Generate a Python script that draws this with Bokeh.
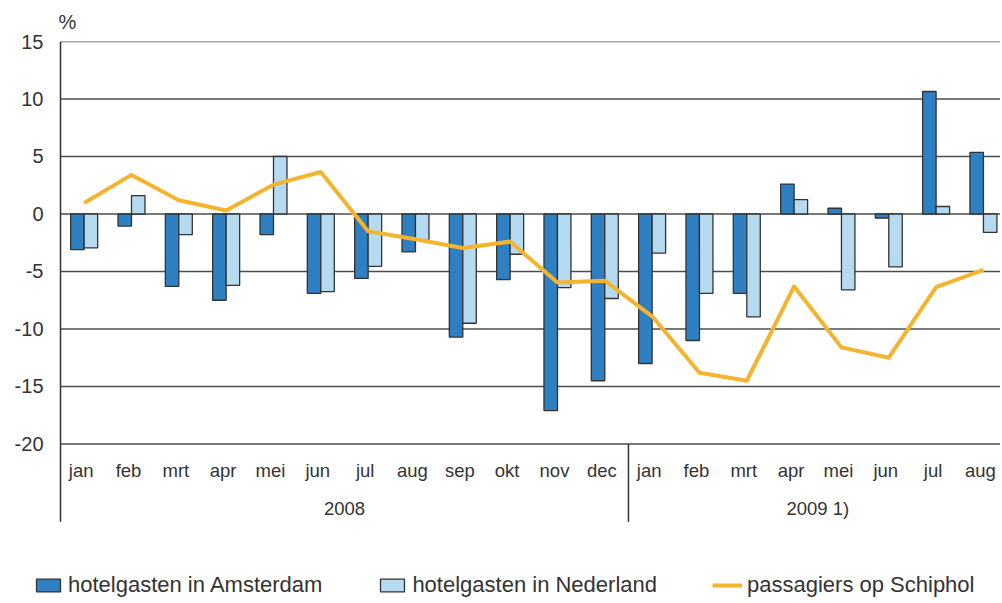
from bokeh.plotting import figure
from bokeh.models import (Range1d, FixedTicker, Legend, LegendItem, Title,
                          ColumnDataSource)
from bokeh.core.properties import value
from bokeh.embed import file_html
from bokeh.resources import INLINE

# ---------------- data ----------------
months = ["jan", "feb", "mrt", "apr", "mei", "jun", "jul", "aug", "sep", "okt",
          "nov", "dec", "jan", "feb", "mrt", "apr", "mei", "jun", "jul", "aug"]
years = ["2008", "2009 1)"]
year_counts = [12, 8]
amsterdam = [-3.1, -1.05, -6.3, -7.5, -1.8, -6.9, -5.6, -3.3, -10.7, -5.7,
             -17.1, -14.5, -13.0, -11.0, -6.9, 2.6, 0.5, -0.35, 10.65, 5.35]
nederland = [-2.95, 1.6, -1.8, -6.2, 5.0, -6.75, -4.55, -2.3, -9.5, -3.5,
             -6.4, -7.35, -3.4, -6.9, -8.95, 1.25, -6.6, -4.6, 0.65, -1.6]
schiphol = [0.95, 3.4, 1.2, 0.3, 2.55, 3.65, -1.5, -2.2, -2.95, -2.4,
            -5.95, -5.8, -8.9, -13.8, -14.5, -6.3, -11.6, -12.5, -6.35, -4.85]
y_ticks = [-20, -15, -10, -5, 0, 5, 10, 15]
y_tick_labels = ["-20", "-15", "-10", "-5", "0", "5", "10", "15"]
series_names = ["hotelgasten in Amsterdam", "hotelgasten in Nederland",
                "passagiers op Schiphol"]

# ---------------- layout / style ----------------
W, H = 1000, 600
FRAME_LEFT, AXIS_X, TOP = 33, 60, 40   # px
CAT_PX = 47.33                          # pixels per month
PX_PER_UNIT = 11.52
Y_MAX, Y_AXIS_MIN = 15, -20
AXIS_EXT_PX = 78                        # axis area below the -20 line
Y_MIN = Y_MAX - (H - TOP) / PX_PER_UNIT
Y_SEP_END = Y_AXIS_MIN - AXIS_EXT_PX / PX_PER_UNIT
BAR_W = 0.285
FONT = "Liberation Sans"
TXT = "#333333"
DARK, LIGHT, ORANGE = "#2E80C2", "#B6DAEF", "#F4B431"
EDGE = "#333333"
GRID = "#4d4d4d"

n = len(months)
x_start = -(AXIS_X - FRAME_LEFT) / CAT_PX
x_end = (W - AXIS_X) / CAT_PX

p = figure(width=W, height=H, output_backend="svg", toolbar_location=None,
           x_range=Range1d(x_start, x_end), y_range=Range1d(Y_MIN, Y_MAX),
           x_axis_location=None,
           min_border_left=FRAME_LEFT, min_border_right=0,
           min_border_top=TOP, min_border_bottom=0)
p.outline_line_color = None
p.background_fill_color = "white"
p.border_fill_color = "white"
p.xgrid.visible = False
p.ygrid.visible = False
p.yaxis.ticker = FixedTicker(ticks=y_ticks)
p.yaxis.major_label_overrides = dict(zip(y_ticks, y_tick_labels))
p.yaxis.axis_line_color = None
p.yaxis.major_tick_line_color = None
p.yaxis.minor_tick_line_color = None
p.yaxis.major_tick_out = 0
p.yaxis.major_tick_in = 0
p.yaxis.major_label_standoff = -(AXIS_X - FRAME_LEFT) + 17
p.yaxis.major_label_text_font = FONT
p.yaxis.major_label_text_font_size = "20px"
p.yaxis.major_label_text_color = TXT

# "%" unit label as title
p.title = Title(text="%", align="left", offset=AXIS_X - FRAME_LEFT - 2,
                standoff=17, text_font=FONT, text_font_size="20px",
                text_color=TXT, text_font_style="normal")

# horizontal grid lines (start at the value axis, x = 0)
p.segment(x0=[0] * len(y_ticks), y0=y_ticks, x1=[x_end] * len(y_ticks),
          y1=y_ticks, line_color=GRID, line_width=1.5)

centers = [i + 0.5 for i in range(n)]
src = ColumnDataSource(dict(
    xa=[c - BAR_W / 2 for c in centers],
    xn=[c + BAR_W / 2 for c in centers],
    xc=centers, a=amsterdam, nl=nederland, s=schiphol))

r_a = p.vbar(x="xa", top="a", bottom=0, width=BAR_W, source=src,
             fill_color=DARK, line_color=EDGE, line_width=1.3)
r_n = p.vbar(x="xn", top="nl", bottom=0, width=BAR_W, source=src,
             fill_color=LIGHT, line_color=EDGE, line_width=1.3)
r_s = p.line(x="xc", y="s", source=src, line_color=ORANGE, line_width=4,
             line_join="round")

# month labels and year labels
month_y = Y_AXIS_MIN - 27 / PX_PER_UNIT
year_y = Y_AXIS_MIN - 65 / PX_PER_UNIT
p.text(x=centers, y=[month_y] * n, text=months, text_align="center",
       text_baseline="middle", text_font=value(FONT), x_offset=-3,
       text_font_size="18.5px", text_color=TXT)

starts = []
acc = 0
for c in year_counts:
    starts.append(acc)
    acc += c
year_centers = [s + c / 2 for s, c in zip(starts, year_counts)]
p.text(x=year_centers, y=[year_y] * len(years), text=years,
       text_align="center", text_baseline="middle", text_font=value(FONT),
       text_font_size="18.5px", text_color=TXT)

# value axis line + group separators
line_tops = [Y_MAX] + [Y_AXIS_MIN] * (len(starts) - 1)
p.segment(x0=starts, y0=line_tops, x1=starts, y1=[Y_SEP_END] * len(starts),
          line_color="#333333", line_width=1.5)

legend = Legend(items=[LegendItem(label=series_names[0], renderers=[r_a]),
                       LegendItem(label=series_names[1], renderers=[r_n]),
                       LegendItem(label=series_names[2], renderers=[r_s])],
                orientation="horizontal", location=(0, 2),
                glyph_width=30, glyph_height=16, label_standoff=5,
                spacing=55, padding=0, margin=0, border_line_color=None,
                background_fill_alpha=0, label_text_font=FONT,
                label_text_font_size="22px", label_text_color=TXT,
                label_height=16)
p.add_layout(legend, "center")

open("out.html", "w").write(file_html(p, INLINE))
